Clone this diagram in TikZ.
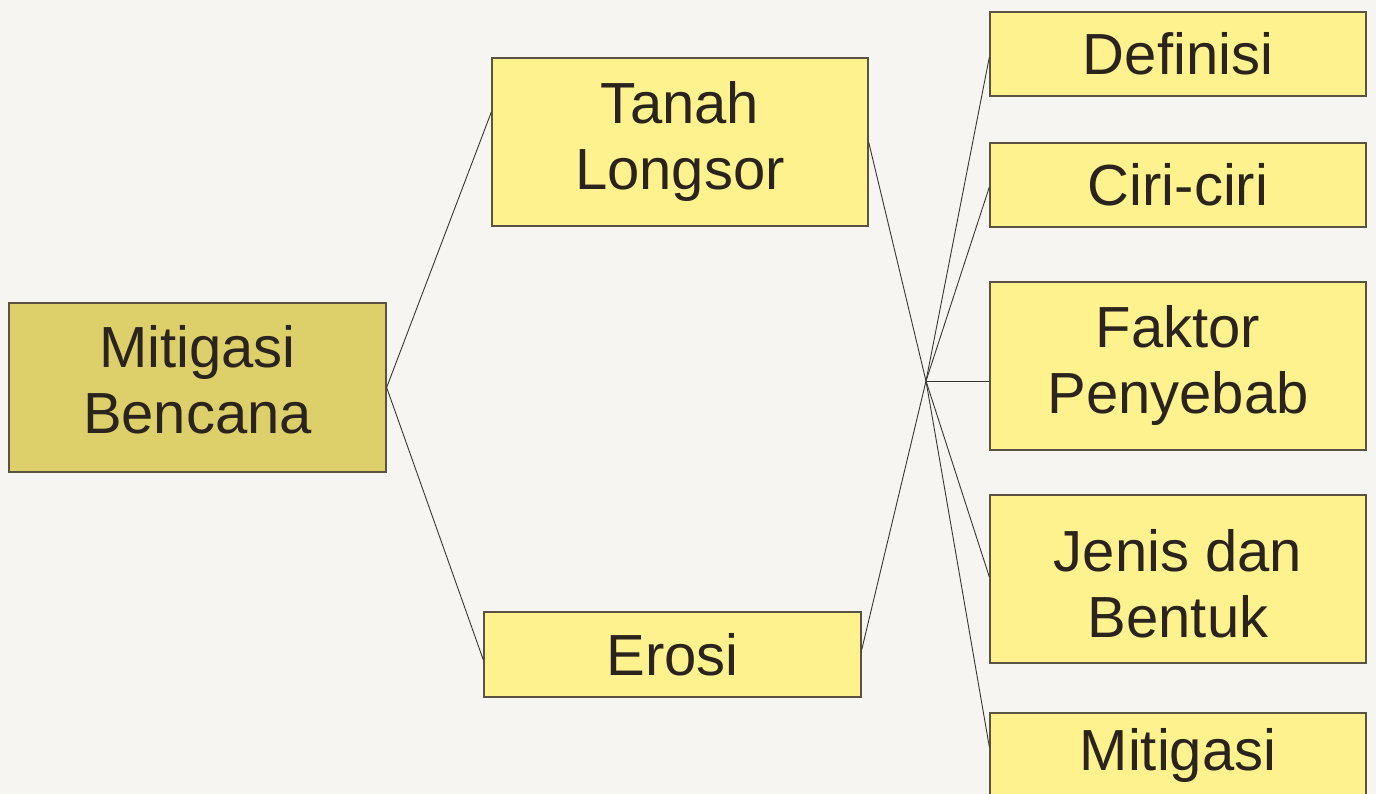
\documentclass[tikz,border=0pt]{standalone}
\usepackage{fontspec}
\setmainfont{Liberation Sans}
\definecolor{bgc}{HTML}{F6F5F2}
\definecolor{olive}{HTML}{DDD06A}
\definecolor{lemon}{HTML}{FDF28E}
\definecolor{edge}{HTML}{5A5242}
\definecolor{ink}{HTML}{2A231E}
\definecolor{wire}{HTML}{3A3632}
\newcommand\mystrut[2]{\rule[-#1pt]{0pt}{#2pt}}
\begin{document}
\begin{tikzpicture}[x=1pt,y=-1pt,
  boxstyle/.style={draw=edge,line width=1.3pt,fill=lemon,text=ink,inner sep=0pt,
    align=center,minimum width=376pt,font=\fontsize{58}{66}\selectfont},
  rootbox/.style={boxstyle,fill=olive},
  wirestyle/.style={draw=wire,line width=0.9pt}]
\useasboundingbox (0,0) rectangle (1376,794);
\clip (0,0) rectangle (1376,794);
\fill[bgc] (0,0) rectangle (1376,794);
\node[rootbox,minimum width=377pt,minimum height=169pt] (mb) at (197.5,387.5) {Mitigasi\\Bencana\mystrut{17}{0}};
\node[boxstyle,minimum height=168pt] (tl) at (680,142) {Tanah\\Longsor};
\node[boxstyle,minimum width=377pt,minimum height=85pt] (er) at (672.5,654.5) {Erosi};
\node[boxstyle,minimum height=84pt] (def) at (1178,54) {Definisi};
\node[boxstyle,minimum height=84pt] (cir) at (1178,185) {Ciri-ciri};
\node[boxstyle,minimum height=168pt] (fak) at (1178,366) {Faktor\\Penyebab};
\node[boxstyle,minimum height=168pt] (jen) at (1178,579) {\mystrut{0}{52}Jenis dan\\Bentuk};
\node[boxstyle,minimum height=84pt] (mit) at (1178,755) {Mitigasi};
\coordinate (hub) at (926,381);
\draw[wirestyle] (mb.east) -- ([yshift=30pt]tl.west);
\draw[wirestyle] (mb.east) -- ([yshift=-5.5pt]er.west);
\draw[wirestyle] (tl.east) -- (hub);
\draw[wirestyle] ([yshift=4.5pt]er.east) -- (hub);
\draw[wirestyle] (hub) -- ([yshift=-3pt]def.west);
\draw[wirestyle] (hub) -- ([yshift=-2pt]cir.west);
\draw[wirestyle] (hub) -- ([yshift=-15pt]fak.west);
\draw[wirestyle] (hub) -- ([yshift=2pt]jen.west);
\draw[wirestyle] (hub) -- ([yshift=8pt]mit.west);
\end{tikzpicture}
\end{document}
